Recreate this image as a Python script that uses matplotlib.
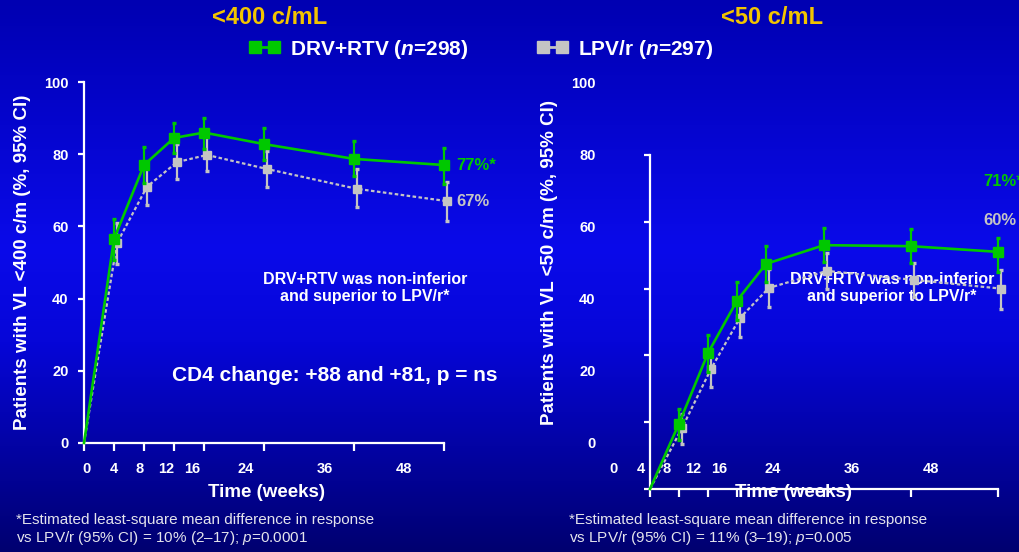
import numpy as np
import matplotlib
matplotlib.use("Agg")
import matplotlib.pyplot as plt
from matplotlib.colors import LinearSegmentedColormap
from matplotlib.lines import Line2D


OUTPUT_FILE = "out.png"

FIG_W = 1020
FIG_H = 552

WEEKS = [0, 4, 8, 12, 16, 24, 36, 48]
WEEK_LABELS = ["0", "4", "8", "12", "16", "24", "36", "48"]
PERCENT_TICKS = [0, 20, 40, 60, 80, 100]

# Response rate, VL < 400 copies/mL (mean, lower and upper 95% CI)
DRV_400 = [0, 56.5, 77.0, 84.5, 86.0, 82.8, 78.7, 77.0]
DRV_400_LO = [0, 50.7, 72.0, 80.3, 81.4, 78.4, 74.0, 71.7]
DRV_400_HI = [0, 62.0, 82.0, 88.6, 90.0, 87.3, 83.7, 81.7]
LPV_400 = [0, 55.4, 71.0, 77.8, 79.8, 75.9, 70.4, 67.0]
LPV_400_LO = [0, 49.6, 65.9, 73.0, 75.3, 70.9, 65.4, 61.5]
LPV_400_HI = [0, 61.0, 76.4, 82.8, 84.8, 80.9, 75.9, 72.3]

# Response rate, VL < 50 copies/mL
DRV_50 = [0, 19.6, 40.7, 56.4, 67.4, 73.0, 72.7, 71.0]
DRV_50_LO = [0, 14.8, 35.0, 50.6, 62.0, 68.0, 67.7, 65.0]
DRV_50_HI = [0, 24.0, 46.0, 62.0, 72.8, 78.1, 77.8, 75.1]
LPV_50 = [0, 18.2, 35.9, 51.2, 60.2, 65.3, 62.6, 60.0]
LPV_50_LO = [0, 13.5, 30.5, 45.5, 54.5, 60.0, 57.5, 54.0]
LPV_50_HI = [0, 22.5, 41.6, 56.5, 65.9, 70.7, 67.7, 65.6]

DRV_FINAL_400 = "77%*"
LPV_FINAL_400 = "67%"
DRV_FINAL_50 = "71%*"
LPV_FINAL_50 = "60%"

DRV_LABEL = r"DRV+RTV ($\mathbfit{n}$=298)"
LPV_LABEL = r"LPV/r ($\mathbfit{n}$=297)"

NOTE_TEXT = "DRV+RTV was non-inferior\nand superior to LPV/r*"
CD4_TEXT = "CD4 change: +88 and +81, p = ns"
FOOTNOTE_400 = ("*Estimated least-square mean difference in response\n"
                "vs LPV/r (95% CI) = 10% (2\u201317); $p$=0.0001")
FOOTNOTE_50 = ("*Estimated least-square mean difference in response\n"
               "vs LPV/r (95% CI) = 11% (3\u201319); $p$=0.005")

GREEN = "#00C800"
GREY = "#C4C4C4"
GOLD = "#F2C400"
FOOT_COLOR = "#E4E4EC"

GREY_SHIFT = 0.4
LABEL_SCALE = 0.88
LABEL_SHIFT = 0.4


def px_rect(left, top, right, bottom):
    """
    Convert a pixel box (origin top-left) into a figure-fraction rect.
    """

    return [
        left / FIG_W,
        1 - bottom / FIG_H,
        (right - left) / FIG_W,
        (bottom - top) / FIG_H
    ]


def draw_background(fig):
    """
    Vertical blue gradient behind the whole slide.
    """

    ax = fig.add_axes([0, 0, 1, 1], zorder=-10)

    cmap = LinearSegmentedColormap.from_list(
        "slide",
        [
            (0.0, "#0000B2"),
            (0.45, "#0A0AEA"),
            (0.62, "#0606D8"),
            (1.0, "#000070")
        ]
    )

    gradient = np.linspace(0, 1, 256).reshape(-1, 1)

    ax.imshow(gradient, cmap=cmap, aspect="auto", extent=[0, 1, 0, 1])
    ax.axis("off")


def draw_frame(ax, ylabel, drv_final, lpv_final, drv_text, lpv_text, extra_text=None):
    """
    Tick labels, axis titles and notes for one panel.
    """

    ax.set_facecolor("none")
    ax.set_xlim(0, 48)
    ax.set_ylim(0, 100)

    for spine in ax.spines.values():
        spine.set_visible(False)

    ax.set_yticks(PERCENT_TICKS)
    ax.set_xticks([w * LABEL_SCALE + LABEL_SHIFT for w in WEEKS])
    ax.set_xticklabels(WEEK_LABELS)

    ax.tick_params(axis="y", length=0, pad=11, labelsize=10.5,
                   labelcolor="white")
    ax.tick_params(axis="x", length=0, pad=14, labelsize=10.5,
                   labelcolor="white")

    for label in ax.get_xticklabels() + ax.get_yticklabels():
        label.set_fontweight("bold")

    ax.text(-0.172, 0.5, ylabel, transform=ax.transAxes, rotation=90,
            ha="center", va="center", color="white", fontsize=13.5,
            fontweight="bold")

    ax.text(0.508, -0.136, "Time (weeks)", transform=ax.transAxes,
            ha="center", va="center", color="white", fontsize=13.5,
            fontweight="bold")

    ax.annotate(drv_text, (48, drv_final), xytext=(9, 0),
                textcoords="offset points", ha="left", va="center",
                color=GREEN, fontsize=12, fontweight="bold")

    ax.annotate(lpv_text, (48, lpv_final), xytext=(9, 0),
                textcoords="offset points", ha="left", va="center",
                color=GREY, fontsize=12, fontweight="bold")

    ax.text(37.5, 43, NOTE_TEXT, ha="center", va="center", color="white",
            fontsize=11.5, fontweight="bold", linespacing=1.15)

    if extra_text:
        ax.text(33.5, 18.8, extra_text, ha="center", va="center",
                color="white", fontsize=15, fontweight="bold")


def draw_data(ax, drv, drv_lo, drv_hi, lpv, lpv_lo, lpv_hi):
    """
    Both treatment arms with 95% CI error bars.
    """

    ax.set_facecolor("none")
    ax.set_xlim(0, 48)
    ax.set_ylim(0, 100)

    weeks = np.array(WEEKS, dtype=float)
    grey_weeks = np.where(weeks > 0, weeks + GREY_SHIFT, weeks)

    drv = np.array(drv)
    lpv = np.array(lpv)

    bars = ax.errorbar(
        grey_weeks[1:], lpv[1:],
        yerr=[lpv[1:] - np.array(lpv_lo)[1:], np.array(lpv_hi)[1:] - lpv[1:]],
        fmt="none", ecolor=GREY, elinewidth=1.6, capsize=1.6, capthick=2.4,
        zorder=2
    )
    for artist in bars.get_children():
        artist.set_clip_on(False)

    ax.plot(grey_weeks, lpv, color=GREY, lw=1.6, dashes=(1.6, 1.1),
            marker="s", markersize=6, markevery=slice(1, None), zorder=3,
            clip_on=False)

    bars = ax.errorbar(
        weeks[1:], drv[1:],
        yerr=[drv[1:] - np.array(drv_lo)[1:], np.array(drv_hi)[1:] - drv[1:]],
        fmt="none", ecolor=GREEN, elinewidth=1.6, capsize=1.6, capthick=2.4,
        zorder=4
    )
    for artist in bars.get_children():
        artist.set_clip_on(False)

    ax.plot(weeks, drv, color=GREEN, lw=1.9, marker="s", markersize=6.5,
            markevery=slice(1, None), zorder=5, clip_on=False)

    for side in ["top", "right"]:
        ax.spines[side].set_visible(False)

    for side in ["left", "bottom"]:
        ax.spines[side].set_color("white")
        ax.spines[side].set_linewidth(1.6)

    ax.set_xticks(WEEKS)
    ax.set_yticks(PERCENT_TICKS)
    ax.tick_params(axis="x", length=6, width=1.6, color="white",
                   labelbottom=False)
    ax.tick_params(axis="y", length=4.5, width=1.6, color="white",
                   labelleft=False)


def draw_legend(fig):
    """
    Shared legend under the panel titles.
    """

    handles = [
        Line2D([0], [0], color=GREEN, lw=2, marker="s", markersize=8),
        Line2D([0], [0], color=GREY, lw=2, marker="s", markersize=8)
    ]

    legend = fig.legend(
        handles,
        [DRV_LABEL, LPV_LABEL],
        loc="center",
        bbox_to_anchor=(481 / FIG_W, 1 - 49 / FIG_H),
        ncol=2,
        frameon=False,
        numpoints=2,
        handlelength=1.5,
        handletextpad=0.45,
        columnspacing=3.3,
        prop={"weight": "bold", "size": 15}
    )

    for text in legend.get_texts():
        text.set_color("white")


def main():
    """
    Build the two-panel virological response slide.
    """

    plt.rcParams["font.family"] = ["Liberation Sans", "DejaVu Sans"]
    plt.rcParams["mathtext.fontset"] = "custom"
    plt.rcParams["mathtext.rm"] = "Liberation Sans"
    plt.rcParams["mathtext.it"] = "Liberation Sans:italic"
    plt.rcParams["mathtext.bfit"] = "Liberation Sans:italic:bold"

    fig = plt.figure(figsize=(FIG_W / 100, FIG_H / 100), dpi=100)

    draw_background(fig)

    # Left panel: labels and data share one frame
    left_frame = fig.add_axes(px_rect(84, 82, 444, 443), zorder=1)
    draw_frame(left_frame, "Patients with VL <400 c/m (%, 95% CI)",
               77, 67, DRV_FINAL_400, LPV_FINAL_400, extra_text=CD4_TEXT)

    left_data = fig.add_axes(px_rect(84, 82, 444, 443), zorder=2)
    draw_data(left_data, DRV_400, DRV_400_LO, DRV_400_HI,
              LPV_400, LPV_400_LO, LPV_400_HI)

    # Right panel: the plotted frame sits lower and further right
    right_frame = fig.add_axes(px_rect(611, 82, 971, 443), zorder=1)
    draw_frame(right_frame, "Patients with VL <50 c/m (%, 95% CI)",
               72.5, 61.5, DRV_FINAL_50, LPV_FINAL_50)

    right_data = fig.add_axes(px_rect(650, 155, 998, 489), zorder=2)
    draw_data(right_data, DRV_50, DRV_50_LO, DRV_50_HI,
              LPV_50, LPV_50_LO, LPV_50_HI)

    fig.text(270 / FIG_W, 1 - 18 / FIG_H, "<400 c/mL", ha="center",
             va="center", color=GOLD, fontsize=17, fontweight="bold")
    fig.text(772 / FIG_W, 1 - 18 / FIG_H, "<50 c/mL", ha="center",
             va="center", color=GOLD, fontsize=17, fontweight="bold")

    draw_legend(fig)

    fig.text(16 / FIG_W, 1 - 530 / FIG_H, FOOTNOTE_400, ha="left",
             va="center", color=FOOT_COLOR, fontsize=11, linespacing=1.1)
    fig.text(569 / FIG_W, 1 - 530 / FIG_H, FOOTNOTE_50, ha="left",
             va="center", color=FOOT_COLOR, fontsize=11, linespacing=1.1)

    fig.savefig(OUTPUT_FILE, dpi=100)
    plt.close(fig)


if __name__ == "__main__":
    main()
